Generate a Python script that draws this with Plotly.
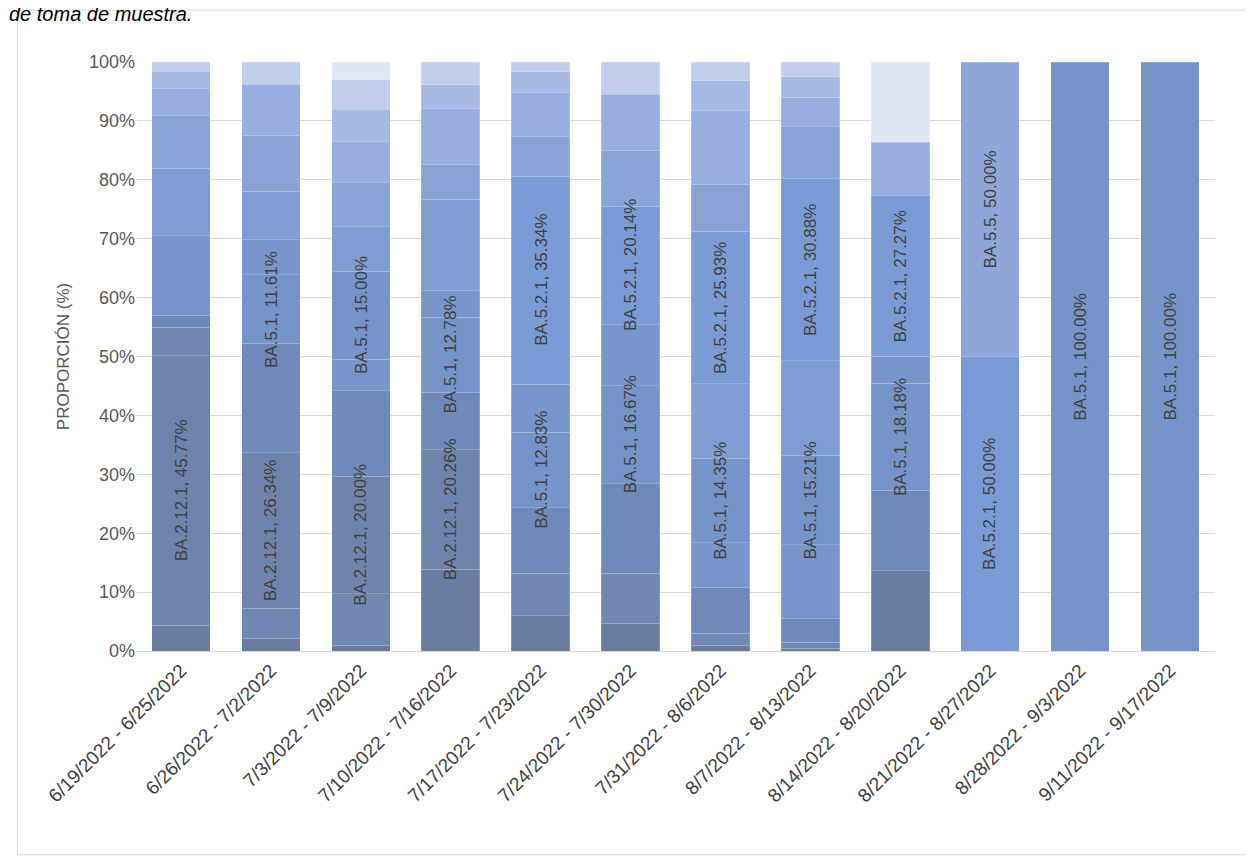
import plotly.graph_objects as go

weeks = ["6/19/2022 - 6/25/2022", "6/26/2022 - 7/2/2022", "7/3/2022 - 7/9/2022",
         "7/10/2022 - 7/16/2022", "7/17/2022 - 7/23/2022", "7/24/2022 - 7/30/2022",
         "7/31/2022 - 8/6/2022", "8/7/2022 - 8/13/2022", "8/14/2022 - 8/20/2022",
         "8/21/2022 - 8/27/2022", "8/28/2022 - 9/3/2022", "9/11/2022 - 9/17/2022"]

# segment values per week, bottom to top (%)
seg_values = [
    [4.4, 45.77, 4.8, 2, 13.5, 11.5, 9, 4.5, 3, 1.53],
    [2.2, 5.1, 26.34, 18.6, 11.61, 6, 8.2, 9.5, 8.7, 3.75],
    [1, 8.7, 20, 14.5, 5.3, 15, 7.5, 7.5, 7, 5.5, 5, 3],
    [13.9, 20.26, 9.74, 12.78, 4.5, 15.5, 6, 9.5, 4, 3.82],
    [6, 7.2, 11.1, 12.83, 8.17, 35.34, 6.7, 7.5, 3.5, 1.66],
    [4.7, 8.5, 15.2, 16.67, 10.33, 20.14, 9.5, 9.5, 5.46],
    [1, 2, 7.8, 7.6, 14.35, 12.6, 25.93, 8, 12.5, 5, 3.22],
    [0.5, 1, 4, 12.5, 15.21, 16.1, 30.88, 8.8, 5, 3.5, 2.51],
    [13.64, 13.64, 18.18, 4.55, 27.27, 9.09, 13.63],
    [50.0, 50.0],
    [100.0],
    [100.0],
]
# lineage of each segment
seg_lineages = [
    ["o1", "BA.2.12.1", "o2", "o3", "o4", "o5", "o6", "o7", "o8", "o9"],
    ["o1", "o2", "BA.2.12.1", "o3", "BA.5.1", "o4", "o5", "o6", "o7", "o9"],
    ["o1", "o2", "BA.2.12.1", "o3", "o4", "BA.5.1", "o5", "o6", "o7", "o8", "o9", "o10"],
    ["o1", "BA.2.12.1", "o3", "BA.5.1", "o4", "o5", "o6", "o7", "o8", "o9"],
    ["o1", "o2", "o3", "BA.5.1", "o4", "BA.5.2.1", "o6", "o7", "o8", "o9"],
    ["o1", "o2", "o3", "BA.5.1", "o4", "BA.5.2.1", "o6", "o7", "o9"],
    ["o1", "o2", "o3", "o4", "BA.5.1", "o5", "BA.5.2.1", "o6", "o7", "o8", "o9"],
    ["o1", "o2", "o3", "o4", "BA.5.1", "o5", "BA.5.2.1", "o6", "o7", "o8", "o9"],
    ["o1", "o3", "BA.5.1", "o4", "BA.5.2.1", "o7", "o10"],
    ["BA.5.2.1", "BA.5.5"],
    ["BA.5.1"],
    ["BA.5.1"],
]
labeled = ["BA.2.12.1", "BA.5.1", "BA.5.2.1", "BA.5.5"]

colors = {
    "o1": "#6a7c9f", "BA.2.12.1": "#6f84ad", "o2": "#7187b3", "o3": "#7089bb",
    "BA.5.1": "#7594c9", "o4": "#7895cc", "BA.5.2.1": "#7a9bd6", "o5": "#7f9dd3",
    "o6": "#8aa3d6", "o7": "#98ade0", "o8": "#a7b8e2", "BA.5.5": "#8fa7d8",
    "o9": "#c2cde9", "o10": "#e1e6f4",
}

fig = go.Figure()
for i, week in enumerate(weeks):
    base = 0
    for v, lin in zip(seg_values[i], seg_lineages[i]):
        fig.add_trace(go.Bar(
            x=[week], y=[v],
            marker=dict(color=colors[lin], line=dict(color="rgba(255,255,255,0.3)", width=0.6)),
            width=0.65, showlegend=False, hoverinfo="skip"))
        if lin in labeled:
            fig.add_annotation(x=week, y=base + v / 2, text=f"{lin}, {v:.2f}%", textangle=-90,
                               showarrow=False,
                               font=dict(size=17, color="#404040", family="Liberation Sans"))
        base += v

fig.update_layout(
    barmode="stack", width=1254, height=860, plot_bgcolor="white", paper_bgcolor="white",
    margin=dict(l=128, r=47, t=54, b=217),
    font=dict(family="Liberation Sans", color="#595959", size=18),
)
fig.update_yaxes(range=[0, 100], dtick=10, ticksuffix="%", gridcolor="#d9d9d9",
                 tickfont=dict(size=18, color="#595959"),
                 title=dict(text="PROPORCIÓN (%)", font=dict(size=17)), zeroline=False,
                 showline=False)
fig.update_xaxes(tickangle=-45, showline=True, linecolor="#d9d9d9",
                 tickfont=dict(size=19, color="#404040"))
fig.add_shape(type="rect", xref="paper", yref="paper", x0=-0.11, x1=1.039, y0=-0.346, y1=1.088,
              line=dict(color="#d9d9d9", width=1))
fig.add_annotation(text="<i>de toma de muestra.</i>", xref="paper", yref="paper", x=-0.12, y=1.103,
                   xanchor="left", yanchor="top", showarrow=False,
                   font=dict(size=20, color="#000000", family="Liberation Sans"))
fig.write_html("out.html")
